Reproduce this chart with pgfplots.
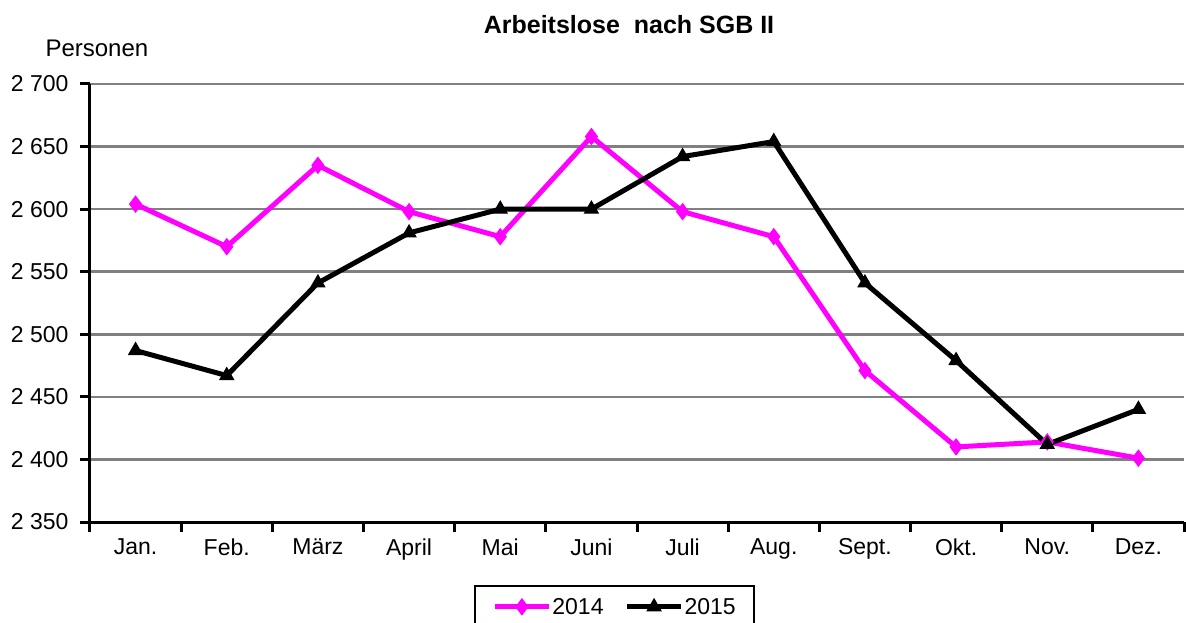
\documentclass[border=0pt]{standalone}
\usepackage{pgfplots}
\pgfplotsset{compat=1.18}
\usepackage{fontspec}
\setmainfont{Liberation Sans}
\definecolor{mag}{RGB}{255,0,255}
\definecolor{gridgray}{RGB}{128,128,128}
\begin{document}
\begin{tikzpicture}[font=\fontsize{23bp}{26bp}\selectfont]
\useasboundingbox (-90bp,-101bp) rectangle (1096bp,522bp);
\begin{axis}[
  at={(0,0)}, anchor=south west,
  scale only axis, width=1094bp, height=438bp,
  xmin=-0.5, xmax=11.5, ymin=2350, ymax=2700,
  axis x line*=bottom, axis y line*=left,
  axis line style={line width=3bp, black, -},
  xtick={-0.5,0.5,...,11.5},
  x tick label as interval,
  xticklabels={Jan.,Feb.,März,April,Mai,Juni,Juli,Aug.,Sept.,Okt.,Nov.,Dez.},
  ytick={2350,2400,...,2700},
  yticklabels={2 350,2 400,2 450,2 500,2 550,2 600,2 650,2 700},
  tick align=outside,
  major tick length=10bp,
  tick style={line width=3bp, black},
  ymajorgrids,
  grid style={line width=2.5bp, gridgray},
  ticklabel style={font=\fontsize{23bp}{26bp}\selectfont},
  xticklabel style={yshift=-3bp},
  yticklabel style={xshift=-8bp},
  legend style={at={(0.4795,-0.144)}, anchor=north, draw=black, line width=2bp,
    legend columns=2, font=\fontsize{23bp}{26bp}\selectfont,
    /tikz/every even column/.append style={column sep=20bp},
    nodes={inner xsep=1bp},
    inner xsep=17bp, inner ysep=10bp},
  legend image code/.code={
    \draw[#1, mark repeat=2, mark phase=2] plot coordinates {(0bp,0bp) (27bp,0bp) (54bp,0bp)};},
  clip=false,
]
\addplot[mag, line width=5bp, mark=diamond*, mark size=8bp, mark options={line width=1bp}]
coordinates {(0,2604) (1,2570) (2,2635) (3,2598) (4,2578) (5,2658) (6,2598) (7,2578) (8,2471) (9,2410) (10,2414) (11,2401)};
\addlegendentry{2014}
\addplot[black, line width=5bp, mark=triangle*, mark size=8bp, mark options={line width=1bp}]
coordinates {(0,2487) (1,2467) (2,2541) (3,2581) (4,2600) (5,2600) (6,2642) (7,2654) (8,2541) (9,2479) (10,2412) (11,2440)};
\addlegendentry{2015}
\end{axis}
\node[font=\fontsize{25bp}{28bp}\selectfont\bfseries] at (539bp,497bp) {Arbeitslose\ \ nach SGB II};
\node[anchor=west, font=\fontsize{24bp}{27bp}\selectfont] at (-48bp,474bp) {Personen};
\end{tikzpicture}
\end{document}
